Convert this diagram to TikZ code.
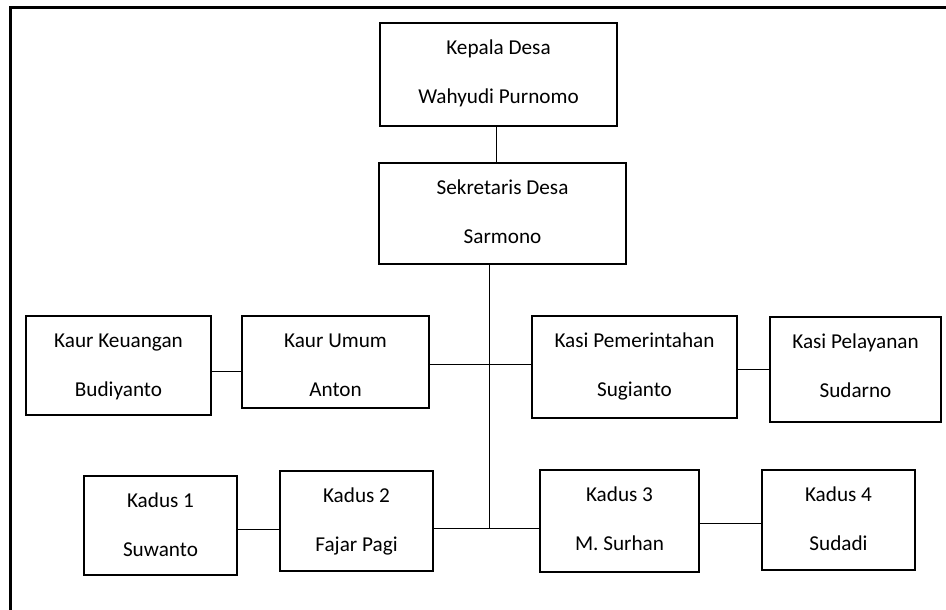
\documentclass[tikz,border=0pt]{standalone}
\usepackage{fontspec}
\setmainfont{Carlito}
\tikzset{
  orgbox/.style={draw=black, line width=1.8pt, rectangle, inner sep=0pt},
  link/.style={draw=black, line width=0.9pt},
  frameline/.style={draw=black, line width=2.2pt},
  lbl/.style={inner sep=0pt, anchor=base, font=\fontsize{21.2}{25}\selectfont}
}
% #1 name, #2 left, #3 top, #4 right, #5 bottom, #6 line1, #7 line2
\newcommand\mkorgbox[7]{%
  \node[orgbox, minimum width={(#4-#2)*1pt}, minimum height={(#5-#3)*1pt}]
    (#1) at ({(#2+#4)/2}, {(#3+#5)/2}) {};
  \node[lbl] (#1-a) at ([yshift=-32pt]#1.north) {#6};
  \node[lbl] (#1-b) at ([yshift=-81.5pt]#1.north) {#7};
}
\begin{document}
\begin{tikzpicture}[x=1pt, y=-1pt]
\useasboundingbox (0,0) rectangle (946,610);
\draw[frameline] (946,7.5) -- (10.5,7.5) -- (10.5,610);

\mkorgbox{kd}{380}{23}{617}{126}{Kepala Desa}{Wahyudi Purnomo}
\mkorgbox{sd}{379}{163}{626}{264}{Sekretaris Desa}{Sarmono}
\mkorgbox{kk}{26}{316}{211}{415}{Kaur Keuangan}{Budiyanto}
\mkorgbox{ku}{242}{316}{429}{408}{Kaur Umum}{Anton}
\mkorgbox{kp}{532}{316}{737}{418}{Kasi Pemerintahan}{Sugianto}
\mkorgbox{kl}{770}{317}{941}{422}{Kasi Pelayanan}{Sudarno}
\mkorgbox{ka}{84}{476}{237}{575}{Kadus 1}{Suwanto}
\mkorgbox{kb}{280}{471}{433}{571}{Kadus 2}{Fajar Pagi}
\mkorgbox{kc}{540}{470}{699}{572}{Kadus 3}{M. Surhan}
\mkorgbox{ke}{762}{470}{915}{570}{Kadus 4}{Sudadi}

\coordinate (j1) at (489,364);
\coordinate (j2) at (489,528);

\draw[link] ([xshift=-2.5pt]kd.south) -- ([xshift=-2.5pt]kd.south |- sd.north);
\draw[link] (sd.south -| j1) -- (j2);
\draw[link] (ku.east |- j1) -- (kp.west |- j1);
\draw[link] (kk.east |- 0,371) -- (ku.west |- 0,371);
\draw[link] (kp.east |- 0,369) -- (kl.west |- 0,369);
\draw[link] (ka.east |- 0,529) -- (kb.west |- 0,529);
\draw[link] (kb.east |- j2) -- (kc.west |- j2);
\draw[link] (kc.east |- 0,523) -- (ke.west |- 0,523);
\end{tikzpicture}
\end{document}
